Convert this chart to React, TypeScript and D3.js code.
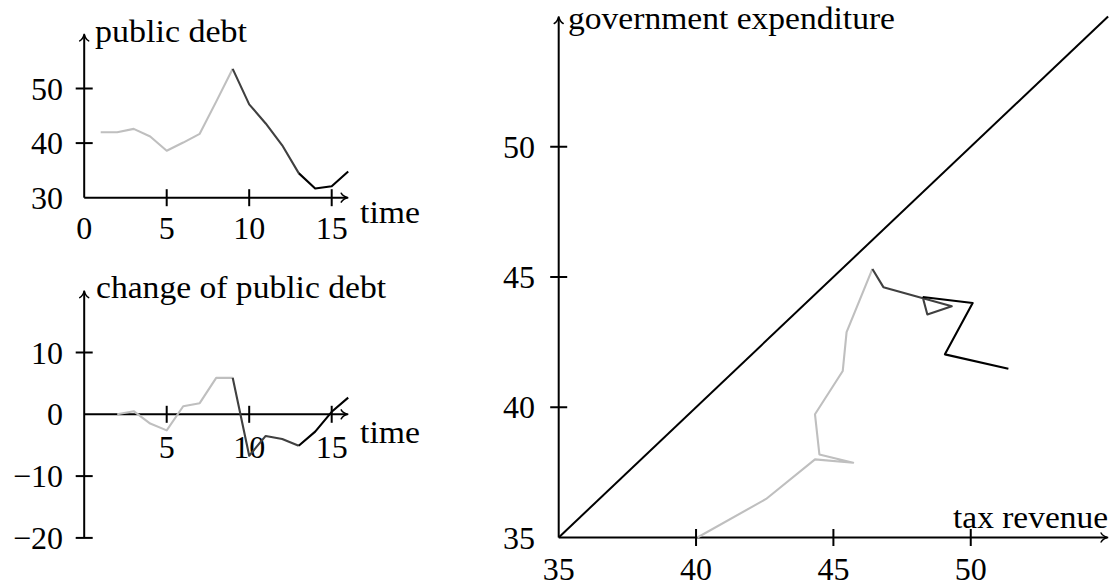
import * as d3 from "d3";

// time series (periods 1..16)
const time = [1, 2, 3, 4, 5, 6, 7, 8, 9, 10, 11, 12, 13, 14, 15, 16];
const publicDebt = [42.0, 42.0, 42.6, 41.2, 38.6, 40.1, 41.7, 47.6, 53.6, 47.1, 43.6, 39.6, 34.5, 31.7, 32.1, 34.8];

const changeTime = [2, 3, 4, 5, 6, 7, 8, 9, 10, 11, 12, 13, 14, 15, 16];
const debtChange = [0.0, 0.5, -1.5, -2.6, 1.3, 1.8, 5.9, 5.9, -6.7, -3.5, -4.0, -5.1, -2.8, 0.4, 2.7];

const taxRevenue = [40.05, 42.55, 44.33, 45.72, 44.49, 44.33, 45.34, 45.48, 46.42, 46.82, 49.31, 48.42, 48.25, 50.07, 49.06, 51.37];
const govExpenditure = [35.0, 36.48, 38.0, 37.87, 38.19, 39.73, 41.39, 42.88, 45.31, 44.61, 43.88, 43.56, 44.23, 44.0, 42.03, 41.48];

// colour phases over time
const phaseStart = [1, 9, 13];
const phaseEnd = [9, 13, 16];
const phaseColor = ["#bfbfbf", "#404040", "#000000"];

// ticks & labels
const timeLabels = [0, 5, 10, 15];
const timeTicks = [5, 10, 15];
const debtLabels = [30, 40, 50];
const debtTicks = [40, 50];
const changeLabels = [-20, -10, 0, 10];
const changeTicks = [-20, -10, 10];
const fiscalLabels = [35, 40, 45, 50];
const fiscalTicks = [40, 45, 50];

const FONT = "'Liberation Serif', 'Times New Roman', serif";
const FS = 32;

const fmt = (v: number) => (v < 0 ? "\u2212" + Math.abs(v) : String(v));

function Arrow({ x, y, angle }: { x: number; y: number; angle: number }) {
  return (
    <path
      transform={`translate(${x},${y}) rotate(${angle})`}
      d="M -7 -4.5 C -5.5 -1.6, -2 -0.4, 0 0 C -2 0.4, -5.5 1.6, -7 4.5"
      fill="none"
      stroke="#000"
      strokeWidth={1.5}
      strokeLinecap="round"
    />
  );
}

function Segments({ pts, tvals }: { pts: [number, number][]; tvals: number[] }) {
  const line = d3.line();
  return (
    <g fill="none" strokeWidth={2.1} strokeLinejoin="round">
      {phaseStart.map((s, i) => {
        const seg = pts.filter((_, k) => tvals[k] >= s && tvals[k] <= phaseEnd[i]);
        return <path key={i} d={line(seg) || ""} stroke={phaseColor[i]} />;
      })}
    </g>
  );
}

export default function App() {
  // top-left: public debt
  const xT = d3.scaleLinear().domain([0, 16]).range([84.2, 348.2]);
  const yD = d3.scaleLinear().domain([30, 60]).range([197.7, 33.9]);
  // bottom-left: change of public debt
  const yC = d3.scaleLinear().domain([-20, 20]).range([537.9, 290.7]);
  // right: tax revenue vs expenditure
  const xF = d3.scaleLinear().domain([35, 55]).range([558.7, 1108.1]);
  const yF = d3.scaleLinear().domain([35, 55]).range([537.5, 16.5]);

  const debtPts = time.map((t, i) => [xT(t), yD(publicDebt[i])] as [number, number]);
  const changePts = changeTime.map((t, i) => [xT(t), yC(debtChange[i])] as [number, number]);
  const fiscalPts = time.map((_, i) => [xF(taxRevenue[i]), yF(govExpenditure[i])] as [number, number]);

  const tk = 8.5;

  return (
    <svg
      width={1112}
      height={588}
      style={{ position: "absolute", left: 0, top: 0, background: "#fff" }}
      fontFamily={FONT}
      fontSize={FS}
    >
      {/* ---- public debt ---- */}
      <g stroke="#000" strokeWidth={2}>
        <line x1={xT(0)} x2={xT(16) - 1} y1={yD(30)} y2={yD(30)} />
        <line x1={xT(0)} x2={xT(0)} y1={yD(30)} y2={yD(60) + 1} />
        {timeTicks.map((t) => (
          <line key={t} x1={xT(t)} x2={xT(t)} y1={yD(30) - tk} y2={yD(30) + tk} />
        ))}
        {debtTicks.map((v) => (
          <line key={v} x1={xT(0) - tk} x2={xT(0) + tk} y1={yD(v)} y2={yD(v)} />
        ))}
      </g>
      <Arrow x={xT(16)} y={yD(30)} angle={0} />
      <Arrow x={xT(0)} y={yD(60)} angle={-90} />
      {timeLabels.map((t) => (
        <text key={t} x={xT(t)} y={yD(30) + 41} textAnchor="middle">{t}</text>
      ))}
      {debtLabels.map((v) => (
        <text key={v} x={63} y={yD(v) + 11} textAnchor="end">{v}</text>
      ))}
      <text x={95} y={42} textLength={152} lengthAdjust="spacingAndGlyphs">public debt</text>
      <text x={360} y={223} textLength={60} lengthAdjust="spacingAndGlyphs">time</text>
      <Segments pts={debtPts} tvals={time} />

      {/* ---- change of public debt ---- */}
      <g stroke="#000" strokeWidth={2}>
        <line x1={xT(0)} x2={xT(16) - 1} y1={yC(0)} y2={yC(0)} />
        <line x1={xT(0)} x2={xT(0)} y1={yC(-20)} y2={yC(20) + 1} />
        {timeTicks.map((t) => (
          <line key={t} x1={xT(t)} x2={xT(t)} y1={yC(0) - tk} y2={yC(0) + tk} />
        ))}
        {changeTicks.map((v) => (
          <line key={v} x1={xT(0) - tk} x2={xT(0) + tk} y1={yC(v)} y2={yC(v)} />
        ))}
      </g>
      <Arrow x={xT(16)} y={yC(0)} angle={0} />
      <Arrow x={xT(0)} y={yC(20)} angle={-90} />
      {timeTicks.map((t) => (
        <text key={t} x={xT(t)} y={yC(0) + 44} textAnchor="middle">{t}</text>
      ))}
      {changeLabels.map((v) => (
        <text key={v} x={63} y={yC(v) + 11} textAnchor="end">{fmt(v)}</text>
      ))}
      <text x={96} y={298} textLength={290} lengthAdjust="spacingAndGlyphs">change of public debt</text>
      <text x={360} y={443} textLength={60} lengthAdjust="spacingAndGlyphs">time</text>
      <Segments pts={changePts} tvals={changeTime} />

      {/* ---- tax revenue vs government expenditure ---- */}
      <g stroke="#000" strokeWidth={2}>
        <line x1={xF(35)} x2={xF(55) - 1} y1={yF(35)} y2={yF(35)} />
        <line x1={xF(35)} x2={xF(35)} y1={yF(35)} y2={yF(55) + 1} />
        {fiscalTicks.map((v) => (
          <line key={"x" + v} x1={xF(v)} x2={xF(v)} y1={yF(35) - tk} y2={yF(35) + tk} />
        ))}
        {fiscalTicks.map((v) => (
          <line key={"y" + v} x1={xF(35) - tk} x2={xF(35) + tk} y1={yF(v)} y2={yF(v)} />
        ))}
        <line x1={xF(35)} y1={yF(35)} x2={xF(55)} y2={yF(55)} />
      </g>
      <Arrow x={xF(55)} y={yF(35)} angle={0} />
      <Arrow x={xF(35)} y={yF(55)} angle={-90} />
      {fiscalLabels.map((v) => (
        <text key={"xl" + v} x={xF(v)} y={yF(35) + 42} textAnchor="middle">{v}</text>
      ))}
      {fiscalLabels.map((v) => (
        <text key={"yl" + v} x={535} y={yF(v) + 11} textAnchor="end">{v}</text>
      ))}
      <text x={568} y={29} textLength={327} lengthAdjust="spacingAndGlyphs">government expenditure</text>
      <text x={953} y={528} textLength={155} lengthAdjust="spacingAndGlyphs">tax revenue</text>
      <Segments pts={fiscalPts} tvals={time} />
    </svg>
  );
}
